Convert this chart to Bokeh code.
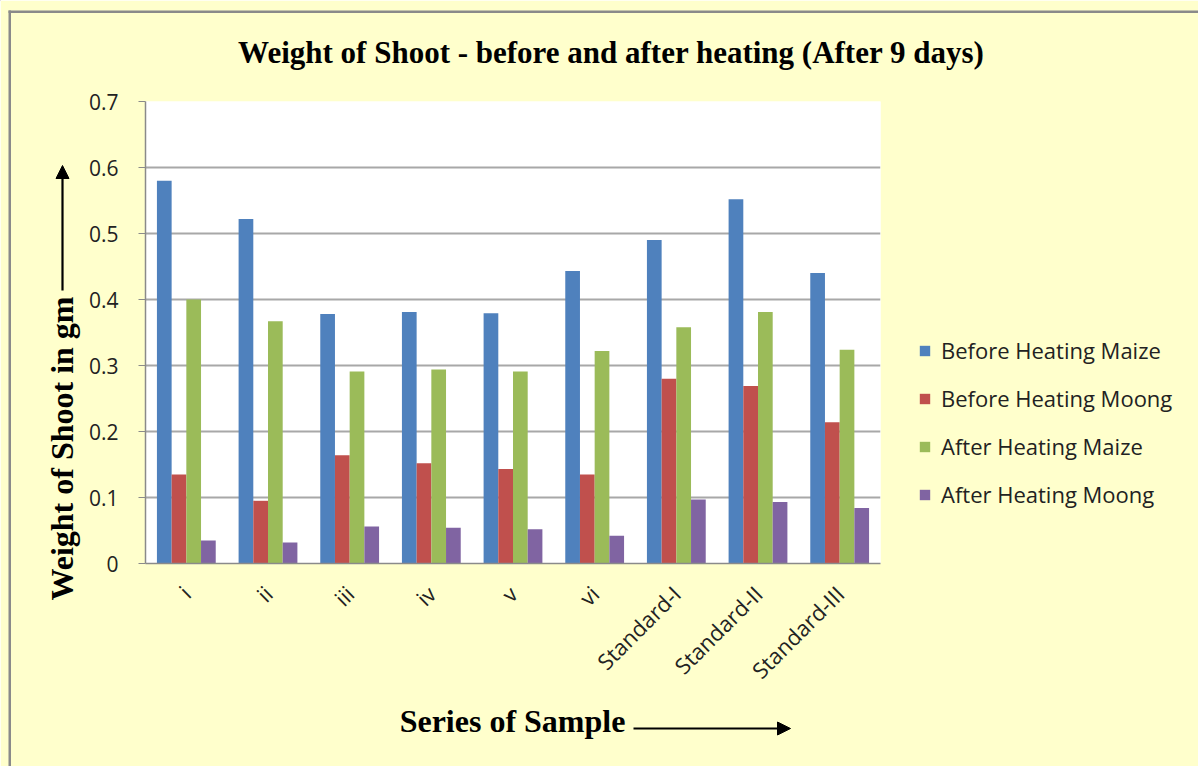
from math import pi
from bokeh.plotting import figure
from bokeh.models import (Legend, LegendItem, Arrow, NormalHead, FixedTicker, Range1d,
                          FactorRange, ColumnDataSource)
from bokeh.core.properties import value
from bokeh.transform import dodge
from bokeh.embed import file_html
from bokeh.resources import INLINE

categories = ["i", "ii", "iii", "iv", "v", "vi", "Standard-I", "Standard-II", "Standard-III"]
before_maize = [0.580, 0.522, 0.378, 0.381, 0.379, 0.443, 0.490, 0.552, 0.440]
before_moong = [0.135, 0.095, 0.164, 0.152, 0.143, 0.135, 0.280, 0.269, 0.214]
after_maize = [0.400, 0.367, 0.291, 0.294, 0.291, 0.322, 0.358, 0.381, 0.324]
after_moong = [0.035, 0.032, 0.056, 0.054, 0.052, 0.042, 0.097, 0.093, 0.084]
series_names = ["Before Heating Maize", "Before Heating Moong", "After Heating Maize", "After Heating Moong"]
y_ticks = [0, 0.1, 0.2, 0.3, 0.4, 0.5, 0.6, 0.7]
y_tick_labels = ["0", "0.1", "0.2", "0.3", "0.4", "0.5", "0.6", "0.7"]
title_text = "Weight of Shoot - before and after heating (After 9 days)"
y_label_text = "Weight of Shoot in gm"
x_label_text = "Series of Sample"

colors = ["#4F81BD", "#C0504D", "#9BBB59", "#8064A2"]
BG = "#FFFFCC"
BORDER = "#8A8A8A"
SERIF = "Liberation Serif"
W, H = 1198, 766
POS = {"position": "absolute", "left": "0px", "top": "0px"}

# ---------- main chart ----------
source = ColumnDataSource(dict(cat=categories, s0=before_maize, s1=before_moong,
                               s2=after_maize, s3=after_moong))

p = figure(width=W, height=H, output_backend="svg", toolbar_location=None,
           x_range=FactorRange(*categories, range_padding=0),
           y_range=Range1d(0, 0.7),
           min_border_left=145, min_border_right=318, min_border_top=101, min_border_bottom=203)
p.styles = dict(POS)
p.background_fill_color = "white"
p.border_fill_color = BG
p.outline_line_color = None

offsets = [-0.27, -0.09, 0.09, 0.27]
for i, off in enumerate(offsets):
    p.vbar(x=dodge("cat", off, range=p.x_range), top="s%d" % i, width=0.18,
           source=source, fill_color=colors[i], line_color=None)

p.yaxis.ticker = FixedTicker(ticks=y_ticks)
p.yaxis.major_label_overrides = {t: l for t, l in zip(y_ticks, y_tick_labels)}
p.yaxis.axis_line_color = BORDER
p.yaxis.axis_line_width = 1.5
p.yaxis.major_tick_line_color = BORDER
p.yaxis.major_tick_out = 7
p.yaxis.major_tick_in = 0
p.yaxis.minor_tick_line_color = None
p.yaxis.major_label_standoff = 20
p.yaxis.major_label_text_font = "Open Sans"
p.yaxis.major_label_text_font_size = "21px"
p.yaxis.major_label_text_color = "#222222"

p.xaxis.axis_line_color = BORDER
p.xaxis.axis_line_width = 1.5
p.xaxis.major_tick_line_color = None
p.xaxis.minor_tick_line_color = None
p.xaxis.major_label_orientation = pi / 4
p.xaxis.major_label_standoff = 20
p.xaxis.major_label_text_font = "Open Sans"
p.xaxis.major_label_text_font_size = "22px"
p.xaxis.major_label_text_color = "#222222"

p.xgrid.grid_line_color = None
p.ygrid.ticker = FixedTicker(ticks=y_ticks)
p.ygrid.grid_line_color = "#A8A8A8"
p.ygrid.grid_line_width = 2

# ---------- overlay for texts, legend, arrows and the box border (pixel coordinates) ----------
o = figure(width=W, height=H, output_backend="svg", toolbar_location=None,
           x_range=Range1d(0, W), y_range=Range1d(H, 0),
           x_axis_location=None, y_axis_location=None,
           min_border=0, min_border_left=0, min_border_right=0,
           min_border_top=0, min_border_bottom=0)
o.styles = dict(POS)
o.grid.visible = False
o.outline_line_color = None
o.background_fill_alpha = 0
o.border_fill_alpha = 0

o.quad(left=[8], right=[W], top=[10], bottom=[12.5], fill_color=BORDER, line_color=None)
o.quad(left=[8], right=[10.5], top=[10], bottom=[H], fill_color=BORDER, line_color=None)

o.text(x=[611], y=[52], text=[title_text], text_font=value(SERIF),
       text_font_style="bold", text_font_size="31px", text_align="center",
       text_baseline="middle", text_color="black")
o.text(x=[61], y=[448], text=[y_label_text], angle=pi / 2, text_font=value(SERIF),
       text_font_style="bold", text_font_size="32px", text_align="center",
       text_baseline="middle", text_color="black")
o.text(x=[512], y=[720], text=[x_label_text], text_font=value(SERIF),
       text_font_style="bold", text_font_size="32px", text_align="center",
       text_baseline="middle", text_color="black")


def arrow(f, x0, y0, x1, y1):
    f.add_layout(Arrow(end=NormalHead(size=13, fill_color="black", line_color="black", line_width=1),
                       x_start=x0, y_start=y0, x_end=x1, y_end=y1,
                       line_width=2.2, line_color="black"))


arrow(o, 62, 290, 62, 165)
arrow(o, 633, 728, 790, 728)

# legend swatches (kept off-canvas) carry the same colours as the bar series
swatches = [o.vbar(x=[-500], bottom=[-600], top=[-500], width=1, fill_color=c, line_color=None)
            for c in colors]
items = [LegendItem(label=n, renderers=[r]) for n, r in zip(series_names, swatches)]
legend = Legend(items=items, location=(918, 257))
legend.background_fill_alpha = 0
legend.border_line_color = None
legend.padding = 0
legend.margin = 0
legend.spacing = 18
legend.glyph_width = 13
legend.glyph_height = 13
legend.label_height = 26
legend.label_standoff = 10
legend.label_text_font = "Open Sans"
legend.label_text_font_size = "22px"
legend.label_text_color = "#222222"
o.add_layout(legend)

open("out.html", "w").write(file_html([p, o], INLINE))
